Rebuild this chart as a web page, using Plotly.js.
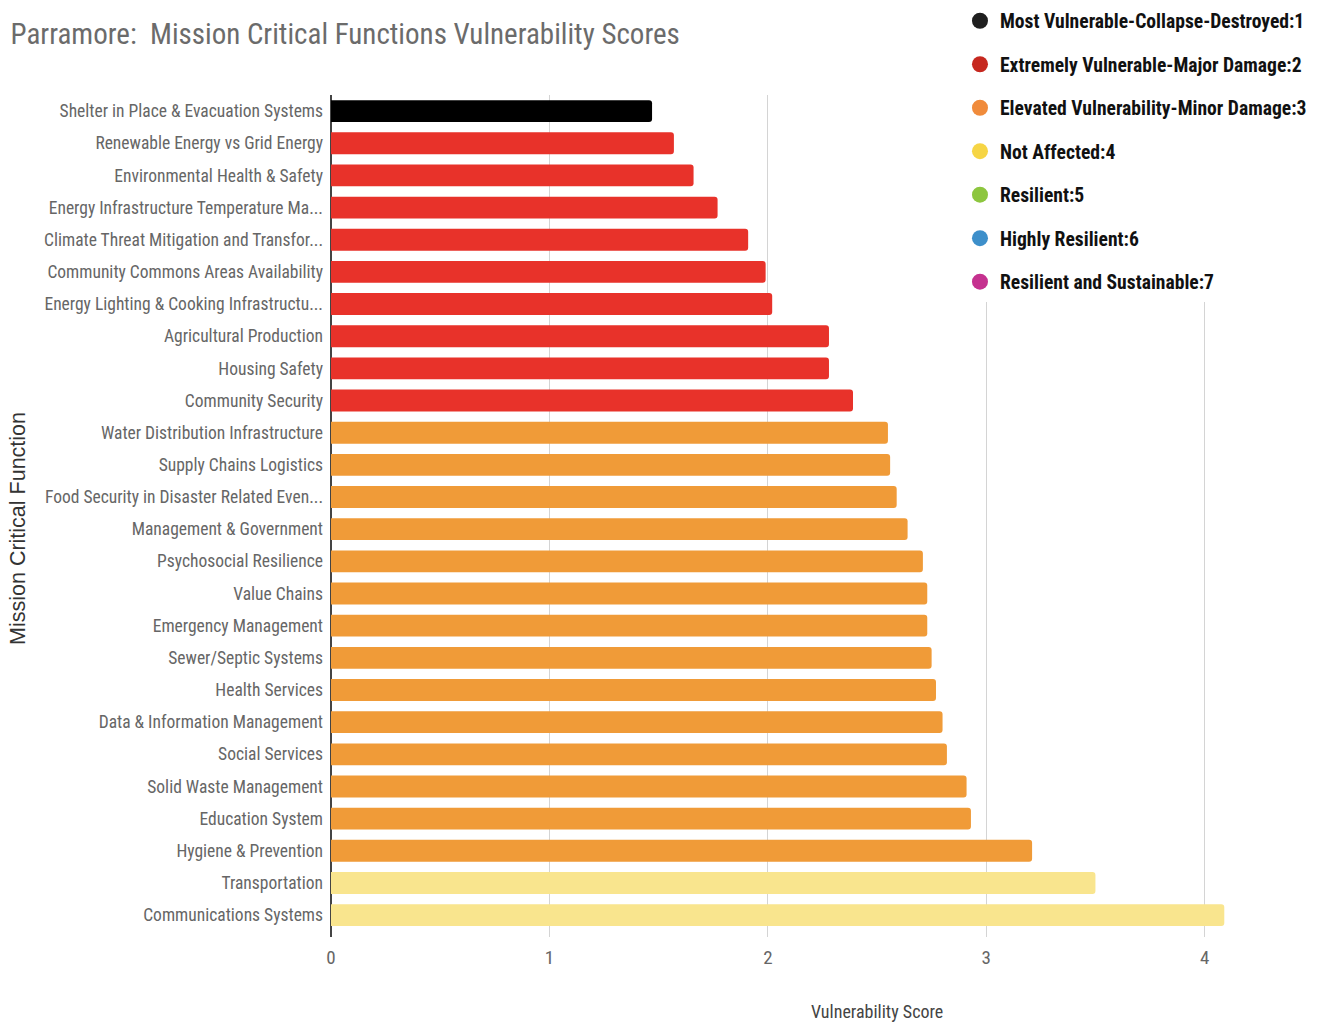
<!DOCTYPE html>
<html>
<head>
<meta charset="utf-8">
<script src="https://cdn.plot.ly/plotly-3.0.1.min.js"></script>
<style>html,body{margin:0;padding:0;background:#fff;}#chart{width:1321px;height:1025px;}</style>
</head>
<body>
<div id="chart"></div>
<script>
const functions = [
  "Shelter in Place & Evacuation Systems",
  "Renewable Energy vs Grid Energy",
  "Environmental Health & Safety",
  "Energy Infrastructure Temperature Ma...",
  "Climate Threat Mitigation and Transfor...",
  "Community Commons Areas Availability",
  "Energy Lighting & Cooking Infrastructu...",
  "Agricultural Production",
  "Housing Safety",
  "Community Security",
  "Water Distribution Infrastructure",
  "Supply Chains Logistics",
  "Food Security in Disaster Related Even...",
  "Management & Government",
  "Psychosocial Resilience",
  "Value Chains",
  "Emergency Management",
  "Sewer/Septic Systems",
  "Health Services",
  "Data & Information Management",
  "Social Services",
  "Solid Waste Management",
  "Education System",
  "Hygiene & Prevention",
  "Transportation",
  "Communications Systems"
];
const scores = [1.47, 1.57, 1.66, 1.77, 1.91, 1.99, 2.02, 2.28, 2.28, 2.39, 2.55, 2.56, 2.59, 2.64, 2.71, 2.73, 2.73, 2.75, 2.77, 2.80, 2.82, 2.91, 2.93, 3.21, 3.50, 4.09];
const scoreLevels = [1, 2, 2, 2, 2, 2, 2, 2, 2, 2, 3, 3, 3, 3, 3, 3, 3, 3, 3, 3, 3, 3, 3, 3, 4, 4];
const legendLabels = [
  "Most Vulnerable-Collapse-Destroyed:1",
  "Extremely Vulnerable-Major Damage:2",
  "Elevated Vulnerability-Minor Damage:3",
  "Not Affected:4",
  "Resilient:5",
  "Highly Resilient:6",
  "Resilient and Sustainable:7"
];
const tickValues = [0, 1, 2, 3, 4];
const xTitle = "Vulnerability Score";
const yTitle = "Mission Critical Function";
const barColors = {1: "#000000", 2: "#e8322a", 3: "#f09b38", 4: "#f9e58e"};
const legendColors = ["#1f1f1f", "#c6281f", "#f08b3b", "#f6d545", "#8dc63f", "#3d8fca", "#c5318f"];

const narrow = '"Roboto Condensed", "DejaVu Sans Condensed", "Liberation Sans Narrow", sans-serif';

const traces = [{
  type: "bar",
  orientation: "h",
  x: scores,
  y: functions,
  marker: {color: scoreLevels.map(l => barColors[l]), cornerradius: 3},
  showlegend: false,
  hoverinfo: "x+y"
}];
legendLabels.forEach((lab, i) => {
  traces.push({
    type: "scatter",
    mode: "markers",
    x: [null],
    y: [null],
    name: lab,
    legendgroup: "g" + i,
    marker: {color: legendColors[i], size: 22, symbol: "circle"},
    showlegend: true
  });
});

const layout = {
  width: 1321,
  height: 1025,
  paper_bgcolor: "#ffffff",
  plot_bgcolor: "#ffffff",
  margin: {l: 331, r: 29, t: 95, b: 88, autoexpand: false},
  bargap: 0.32,
  title: {
    text: "Parramore:  Mission Critical Functions Vulnerability Scores",
    font: {family: narrow, size: 29, color: "#6b6b6b"},
    x: 0.008, xanchor: "left", xref: "container",
    y: 0.967, yanchor: "middle", yref: "container"
  },
  xaxis: {
    range: [0, 4.4],
    tickvals: tickValues,
    showgrid: true,
    gridcolor: "#d4d4d4",
    gridwidth: 1,
    zeroline: true,
    zerolinecolor: "#444444",
    zerolinewidth: 1.5,
    showline: false,
    ticks: "",
    ticklabelstandoff: 7,
    tickfont: {family: narrow, size: 19, color: "#666666"}
  },
  yaxis: {
    type: "category",
    range: [25.68, -0.5],
    showgrid: false,
    zeroline: false,
    showline: false,
    ticks: "",
    ticklabelstandoff: 7,
    tickfont: {family: narrow, size: 17.5, color: "#666666"}
  },
  annotations: [
    {
      text: xTitle, xref: "paper", yref: "paper",
      x: 0.568, y: -0.089, xanchor: "center", yanchor: "middle",
      showarrow: false,
      font: {family: narrow, size: 18, color: "#444444"}
    },
    {
      text: yTitle, xref: "paper", yref: "paper",
      x: -0.3257, y: 0.4846, xanchor: "center", yanchor: "middle",
      textangle: -90, showarrow: false,
      font: {family: "Liberation Sans, Arial, sans-serif", size: 21.5, color: "#333333"}
    }
  ],
  legend: {
    x: 0.6545, xanchor: "left",
    y: 1.111, yanchor: "top",
    bgcolor: "#ffffff",
    font: {family: narrow, size: 19.6, color: "#111111", weight: "bold"},
    traceorder: "grouped",
    tracegroupgap: 15,
    itemsizing: "trace"
  },
  showlegend: true
};

Plotly.newPlot("chart", traces, layout, {displayModeBar: false, staticPlot: true});
</script>
</body>
</html>
